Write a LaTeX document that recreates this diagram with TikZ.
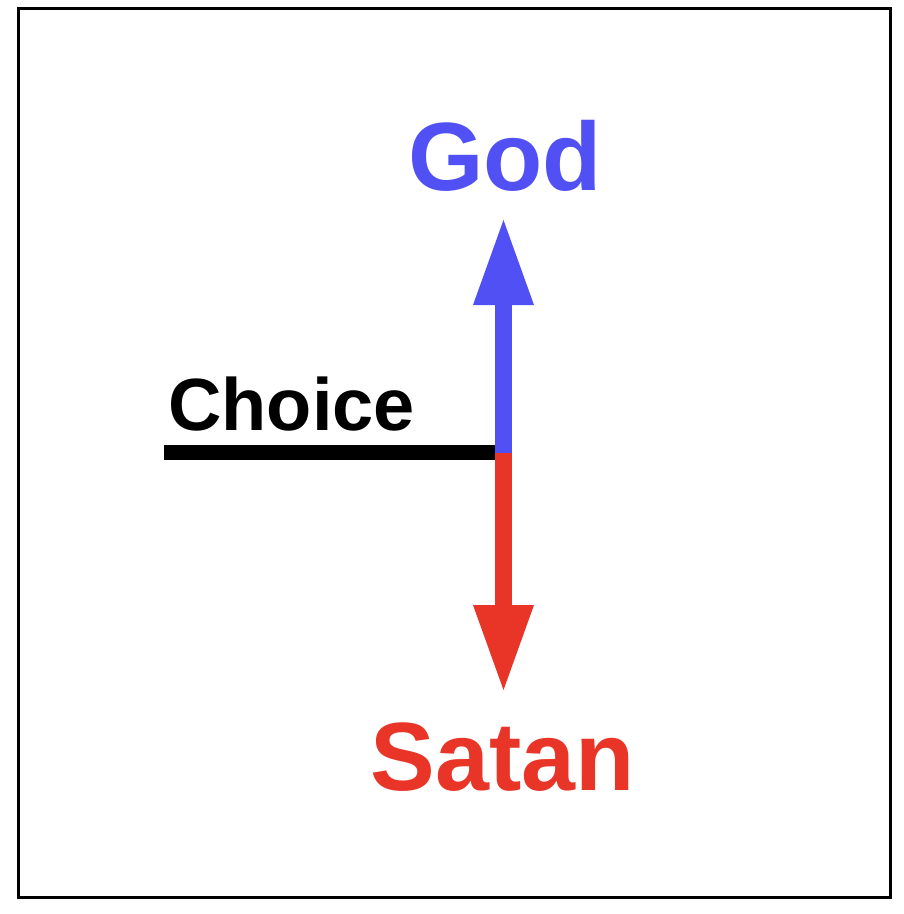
\documentclass[tikz,border=0pt]{standalone}
\usepackage{fontspec}
\setmainfont{Liberation Sans}
\usetikzlibrary{arrows.meta}
\definecolor{godblue}{RGB}{80,80,245}
\definecolor{satanred}{RGB}{232,53,40}
\tikzset{
  frame/.style={draw=black,line width=3pt},
  bigword/.style={font=\fontsize{97}{97}\selectfont\bfseries,inner sep=0pt,anchor=base},
  choicetext/.style={font=\fontsize{74}{74}\selectfont\bfseries,inner sep=0pt,anchor=base west},
  shaft/.style={line width=17pt,line cap=butt},
  bigtip/.style={-{Triangle[width=61pt,length=85pt,line width=0pt]}},
}
\begin{document}
\begin{tikzpicture}[x=1pt,y=-1pt]
\useasboundingbox (0,0) rectangle (904,914);
\draw[frame] (18.5,8.5) rectangle (890.5,897.5);
\coordinate (center) at (503.5,452.5);
\coordinate (godtip) at (503.5,220);
\coordinate (satantip) at (503.5,690);
\coordinate (choicestart) at (164,452.5);
\node[bigword,text=godblue] (god) at (505,190) {God};
\node[bigword,text=satanred] (satan) at (502.5,790) {Satan};
\node[choicetext] (choice) at (168,430) {Choice};
\draw[line width=15pt,line cap=butt] (choicestart) -- (center);
\draw[shaft,bigtip,draw=godblue,fill=godblue] (center) -- (godtip);
\draw[shaft,bigtip,draw=satanred,fill=satanred] (center) -- (satantip);
\end{tikzpicture}
\end{document}
